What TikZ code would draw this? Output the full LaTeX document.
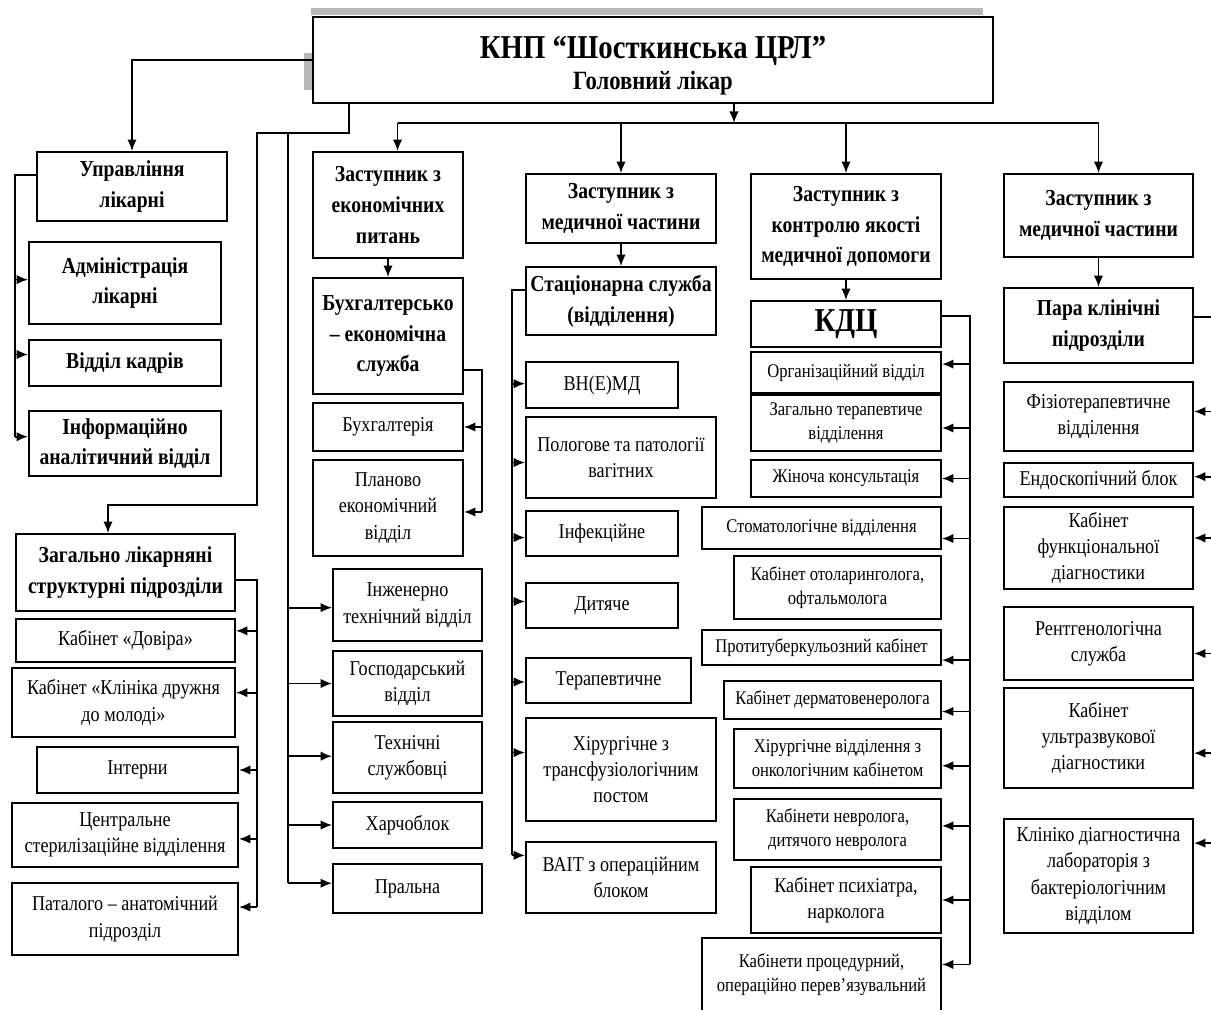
\documentclass[tikz,border=0pt]{standalone}
\usepackage{fontspec}
\setmainfont{Liberation Serif}[FakeStretch=0.86]
\usepackage{tikz}
\usetikzlibrary{arrows.meta}
\tikzstyle{box}=[draw,line width=1.1pt,inner sep=0pt,align=center,font=\fontsize{12}{15}\selectfont]
\tikzstyle{sbox}=[box,font=\fontsize{11}{13.5}\selectfont]
\tikzstyle{hbox}=[box,font=\bfseries\fontsize{13}{17.5}\selectfont]
\tikzstyle{line}=[line width=1pt]
\tikzstyle{link}=[line,-{Latex[length=2.3mm,width=1.9mm]}]
\tikzset{sz/.style 2 args={minimum width=#1*0.02cm,minimum height=#2*0.02cm}}

\begin{document}
\begin{tikzpicture}[x=0.02cm,y=-0.02cm]
        \useasboundingbox (0,0) rectangle (1211,1010);
        \fill[gray!55] (311,8) rectangle (983,15);
        \fill[gray!55] (304,53) rectangle (313,90);
        \node at (653,60) [hbox,sz={680}{86}] (top) {\rule{0pt}{19pt}{\fontsize{19}{23}\selectfont КНП “Шосткинська ЦРЛ”}\\{\fontsize{15}{19}\selectfont Головний лікар}};

        \node at (132,186.5) [hbox,sz={190}{69}] (upr) {Управління\\лікарні};
        \node at (125,283) [hbox,sz={192}{82}] (adm) {Адміністрація\\лікарні};
        \node at (125,363) [hbox,sz={192}{46}] (kadry) {Відділ кадрів};
        \node at (125,443.5) [hbox,sz={192}{65}] (info) {Інформаційно\\аналітичний відділ};
        \node at (125.5,572.5) [hbox,sz={219}{77}] (zag) {Загально лікарняні\\структурні підрозділи};
        \node at (125.5,640.5) [box,sz={219}{43}] (dovira) {Кабінет «Довіра»};
        \node at (123.5,702.5) [box,sz={223}{69}] (klinika) {Кабінет «Клініка дружня\\до молоді»};
        \node at (137.5,770) [box,sz={201}{46}] (interny) {Інтерни};
        \node at (125,835) [box,sz={226}{64}] (steril) {Центральне\\стерилізаційне відділення};
        \node at (125,919) [box,sz={226}{72}] (patalog) {Паталого – анатомічний\\підрозділ};

        \node at (388,205) [hbox,sz={150}{106}] (zec) {Заступник з\\економічних\\питань};
        \node at (388,336) [hbox,sz={150}{116}] (buh) {Бухгалтерсько\\– економічна\\служба};
        \node at (388,427) [box,sz={150}{48}] (buhg) {Бухгалтерія};
        \node at (388,508) [box,sz={150}{96}] (plan) {Планово\\економічний\\відділ};
        \node at (407.5,605) [box,sz={149}{72}] (inzh) {Інженерно\\технічний відділ};
        \node at (407.5,683.5) [box,sz={149}{65}] (gosp) {Господарський\\відділ};
        \node at (407.5,757.5) [box,sz={149}{71}] (tekhn) {Технічні\\службовці};
        \node at (407.5,825) [box,sz={149}{46}] (kharch) {Харчоблок};
        \node at (407.5,888.5) [box,sz={149}{49}] (pralna) {Пральна};

        \node at (621,208.5) [hbox,sz={190}{69}] (zm1) {Заступник з\\медичної частини};
        \node at (621,301) [hbox,sz={190}{68}] (stac) {Стаціонарна служба\\(відділення)};
        \node at (602,385) [box,sz={152}{46}] (vnemd) {ВН(Е)МД};
        \node at (621,457.5) [box,sz={190}{81}] (polog) {Пологове та патології\\вагітних};
        \node at (602,533.5) [box,sz={152}{45}] (infek) {Інфекційне};
        \node at (602,605.5) [box,sz={152}{45}] (dytiache) {Дитяче};
        \node at (608.5,680.5) [box,sz={165}{45}] (terap) {Терапевтичне};
        \node at (621,769.5) [box,sz={190}{103}] (khir) {Хірургічне з\\трансфузіологічним\\постом};
        \node at (621,877.5) [box,sz={190}{71}] (vait) {ВАІТ з операційним\\блоком};

        \node at (846,226.5) [hbox,sz={190}{105}] (zkon) {Заступник з\\контролю якості\\медичної допомоги};
        \node at (846,324) [hbox,sz={190}{46},font=\bfseries\fontsize{19}{22}\selectfont] (kdc) {КДЦ};
        \node at (846,372.5) [sbox,sz={190}{41}] (org) {Організаційний відділ};
        \node at (846,423) [sbox,sz={190}{56}] (zagter) {Загально терапевтиче\\відділення};
        \node at (846,478.5) [sbox,sz={190}{37}] (zhin) {Жіноча консультація};
        \node at (821.5,528) [sbox,sz={239}{42}] (stom) {Стоматологічне відділення};
        \node at (837.5,587.5) [sbox,sz={207}{63}] (otol) {Кабінет отоларинголога,\\офтальмолога};
        \node at (821.5,647.5) [sbox,sz={239}{35}] (ptub) {Протитуберкульозний кабінет};
        \node at (832.5,700) [sbox,sz={217}{38}] (derm) {Кабінет дерматовенеролога};
        \node at (837.5,758.5) [sbox,sz={207}{59}] (khonk) {Хірургічне відділення з\\онкологічним кабінетом};
        \node at (837.5,829.5) [sbox,sz={207}{61}] (nevr) {Кабінети невролога,\\дитячого невролога};
        \node at (846,900) [box,sz={190}{66}] (psykh) {Кабінет психіатра,\\нарколога};
        \node at (821.5,975) [sbox,sz={239}{74}] (proc) {Кабінети процедурний,\\операційно перев'язувальний};

        \node at (1098.5,215.5) [hbox,sz={189}{83}] (zm2) {Заступник з\\медичної частини};
        \node at (1098.5,325.5) [hbox,sz={189}{75}] (para) {Пара клінічні\\підрозділи};
        \node at (1098.5,416.5) [box,sz={189}{69}] (fiz) {Фізіотерапевтичне\\відділення};
        \node at (1098.5,480) [box,sz={189}{34}] (endo) {Ендоскопічний блок};
        \node at (1098.5,548) [box,sz={189}{82}] (funk) {Кабінет\\функціональної\\діагностики};
        \node at (1098.5,643.5) [box,sz={189}{73}] (rent) {Рентгенологічна\\служба};
        \node at (1098.5,738) [box,sz={189}{100}] (uzd) {Кабінет\\ультразвукової\\діагностики};
        \node at (1098.5,876) [box,sz={189}{114}] (lab) {Клініко діагностична\\лабораторія з\\бактеріологічним\\відділом};

        \coordinate (s1) at (349,133);
        \coordinate (t2) at (288,133);
        \coordinate (zin) at (108,505);
        \coordinate (bus) at (734,123);
        \coordinate (ul) at (15,175);
        \coordinate (bb) at (482,370);
        \coordinate (zb) at (257,580);
        \coordinate (sb) at (512,290);
        \coordinate (kb) at (970,316);
        \coordinate (pb) at (1212,317);

        \draw [link] (top.west) -| (upr.north);
        \draw [link] (top.south -| s1) -- (s1) -- (257,133) |- (zin) -- (zin |- zag.north);
        \draw [line] (t2) -- (t2 |- pralna.176);
        \foreach \n/\a in {inzh/182,gosp/180,tekhn/179,kharch/180,pralna/176}
          \draw [link] (t2 |- \n.\a) -- (\n.\a);

        \draw [link] (top.south -| bus) -- (bus);
        \draw [line] (zec.80 |- bus) -- (zm2.north |- bus);
        \draw [link] (zec.80 |- bus) -- (zec.80);
        \foreach \n in {zm1,zkon,zm2}
          \draw [link] (\n.north |- bus) -- (\n.north);

        \draw [line] (upr.west |- ul) -- (ul) -- (ul |- info.176);
        \foreach \n/\a in {adm/178,kadry/175,info/176}
          \draw [link] (ul |- \n.\a) -- (\n.\a);

        \draw [link] (zec.south) -- (buh.north);
        \draw [line] (buh.east |- bb) -- (bb) -- (bb |- plan.357);
        \foreach \n/\a in {buhg/0,plan/357}
          \draw [link] (bb |- \n.\a) -- (\n.\a);

        \draw [line] (zag.east |- zb) -- (zb) -- (zb |- patalog.6);
        \foreach \n/\a in {dovira/5,klinika/5,interny/0,steril/358,patalog/6}
          \draw [link] (zb |- \n.\a) -- (\n.\a);

        \draw [link] (zm1.south) -- (stac.north);
        \draw [line] (stac.west |- sb) -- (sb) -- (sb |- vait.167);
        \foreach \n/\a in {vnemd/179,polog/183,infek/183,dytiache/177,terap/181,khir/170,vait/167}
          \draw [link] (sb |- \n.\a) -- (\n.\a);

        \draw [link] (zkon.south) -- (kdc.north);
        \draw [line] (kdc.east |- kb) -- (kb) -- (kb |- proc.5);
        \foreach \n/\a in {org/5,zagter/357,zhin/0,stom/355,ptub/354,derm/354,khonk/356,nevr/2,psykh/0,proc/5}
          \draw [link] (kb |- \n.\a) -- (\n.\a);

        \draw [link] (zm2.south) -- (para.north);
        \draw [line] (para.east |- pb) -- (pb) -- (pb |- lab.19);
        \foreach \n/\a in {fiz/3,endo/2,funk/6,rent/354,uzd/351,lab/19}
          \draw [link] (pb |- \n.\a) -- (\n.\a);
      \end{tikzpicture}
\end{document}
